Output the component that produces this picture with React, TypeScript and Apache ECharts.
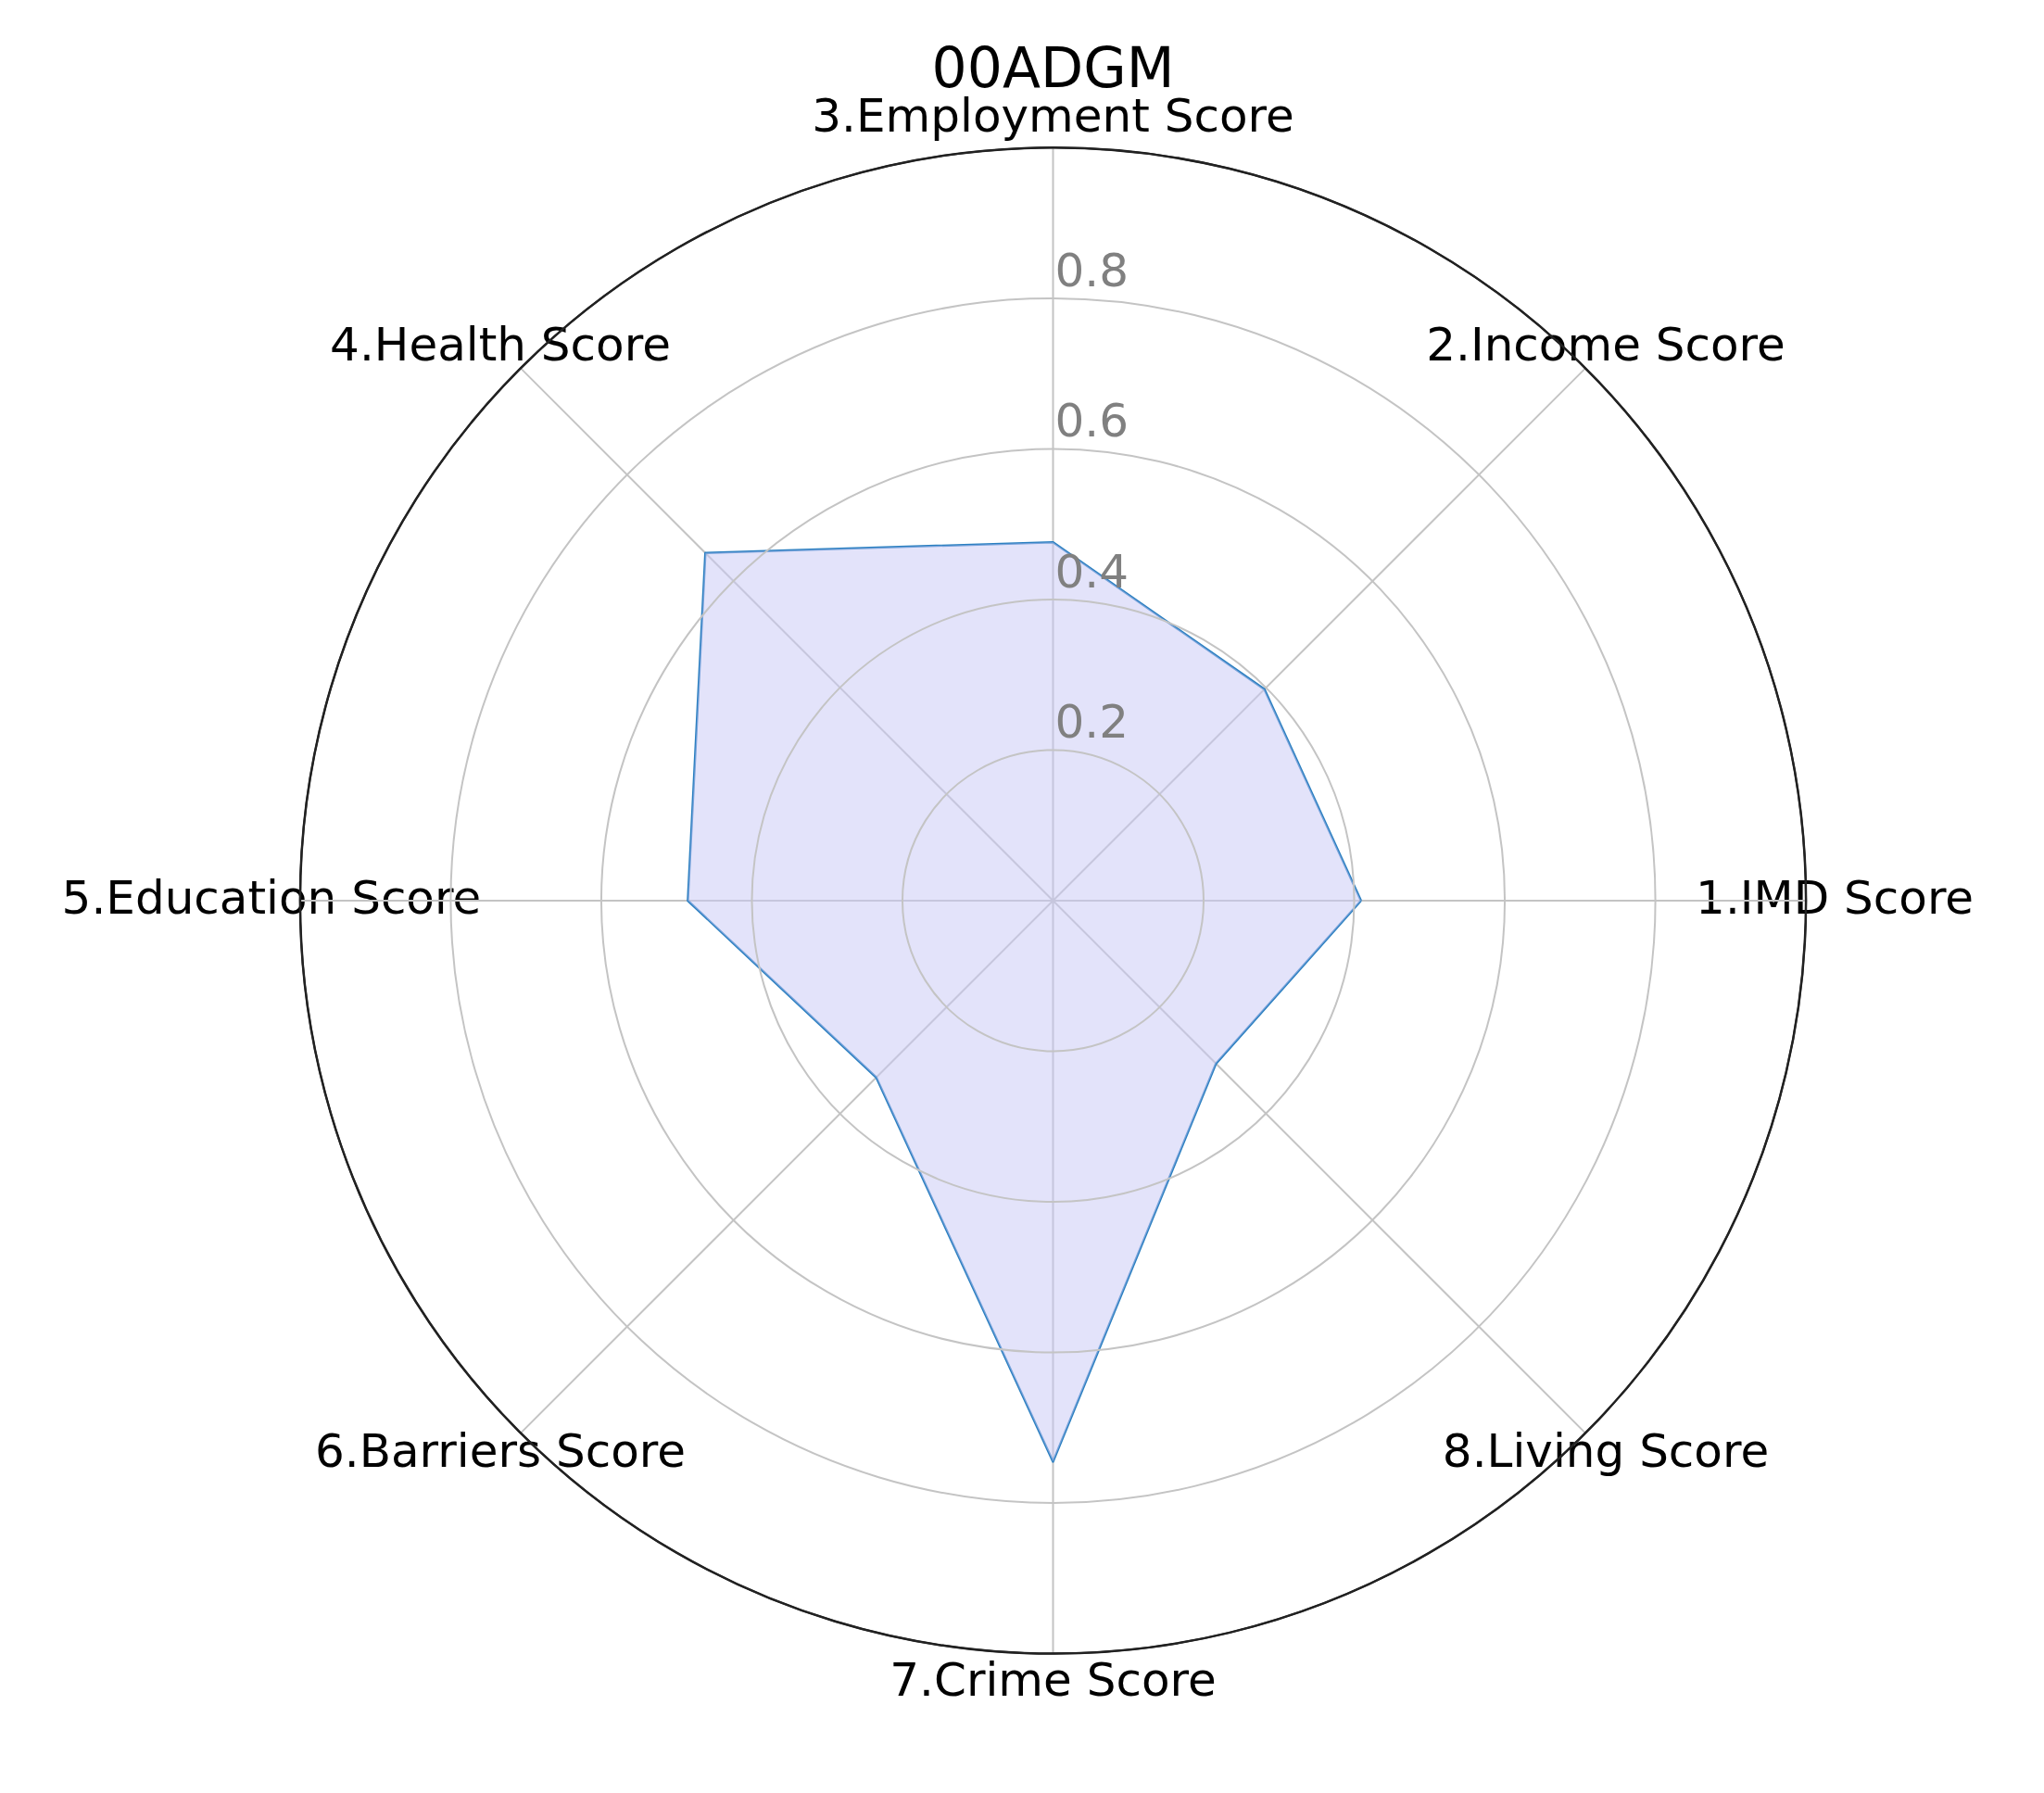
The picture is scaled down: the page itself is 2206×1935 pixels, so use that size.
import React, { useEffect, useRef } from "react";
import * as echarts from "echarts";

const title = "00ADGM";
const categories = [
  "1.IMD Score",
  "2.Income Score",
  "3.Employment Score",
  "4.Health Score",
  "5.Education Score",
  "6.Barriers Score",
  "7.Crime Score",
  "8.Living Score",
];
const values = [0.409, 0.397, 0.476, 0.653, 0.485, 0.332, 0.745, 0.306];
const radialTicks = [0.2, 0.4, 0.6, 0.8];

const CX = 1136.5;
const CY = 972;
const R = 812.6;
const FONT = "'DejaVu Sans', sans-serif";
const GRID = "#c4c4c4";

export default function App() {
  const ref = useRef<HTMLDivElement>(null);
  useEffect(() => {
    document.body.style.margin = "0";
    document.body.style.overflow = "hidden";
    const chart = echarts.init(ref.current!, null, { renderer: "svg" });
    chart.setOption({
      animation: false,
      backgroundColor: "#ffffff",
      title: {
        text: title,
        left: CX,
        top: 48,
        textAlign: "center",
        padding: 0,
        textStyle: {
          fontSize: 60,
          lineHeight: 50,
          fontWeight: "normal",
          color: "#000",
          fontFamily: FONT,
        },
      },
      polar: { center: [CX, CY], radius: R },
      angleAxis: {
        type: "value",
        min: 0,
        max: 360,
        interval: 45,
        startAngle: 90,
        clockwise: false,
        axisLine: { show: true, lineStyle: { color: "#222", width: 2.5 } },
        axisTick: { show: false },
        axisLabel: { show: false },
        splitLine: { show: true, lineStyle: { color: GRID, width: 2 } },
        z: 1,
      },
      radiusAxis: {
        type: "value",
        min: 0,
        max: 1,
        interval: 0.2,
        axisLine: { show: false },
        axisTick: { show: false },
        splitLine: {
          show: true,
          lineStyle: { color: [GRID, GRID, GRID, GRID, GRID, "#222"], width: 2 },
        },
        axisLabel: {
          show: true,
          showMinLabel: false,
          showMaxLabel: false,
          color: "#808080",
          fontSize: 50,
          fontFamily: FONT,
          margin: -2,
          align: "left",
          verticalAlign: "bottom",
          padding: [0, 0, 5, 0],
          formatter: (v: number) => (radialTicks.some((t) => Math.abs(t - v) < 1e-6) ? v.toFixed(1) : ""),
        },
        z: 3,
      },
      radar: {
        center: [CX, CY],
        radius: R,
        startAngle: 0,
        shape: "circle",
        splitNumber: 5,
        nameGap: 31,
        axisName: {
          color: "#000",
          fontSize: 50,
          lineHeight: 44,
          fontFamily: FONT,
          align: "center",
          verticalAlign: "top",
          padding: [-25, 0, 0, 0],
        },
        axisLine: { show: false },
        splitLine: { show: false },
        splitArea: { show: false },
        indicator: categories.map((c) => ({ name: c, min: 0, max: 1 })),
      },
      series: [
        {
          type: "radar",
          symbol: "none",
          z: 2,
          lineStyle: { color: "#2a7fc0", width: 2.5 },
          areaStyle: { color: "#c8c8f5", opacity: 0.5 },
          data: [{ value: values, name: title }],
        },
      ],
    });
    return () => chart.dispose();
  }, []);
  return <div ref={ref} style={{ width: 2206, height: 1935 }} />;
}
